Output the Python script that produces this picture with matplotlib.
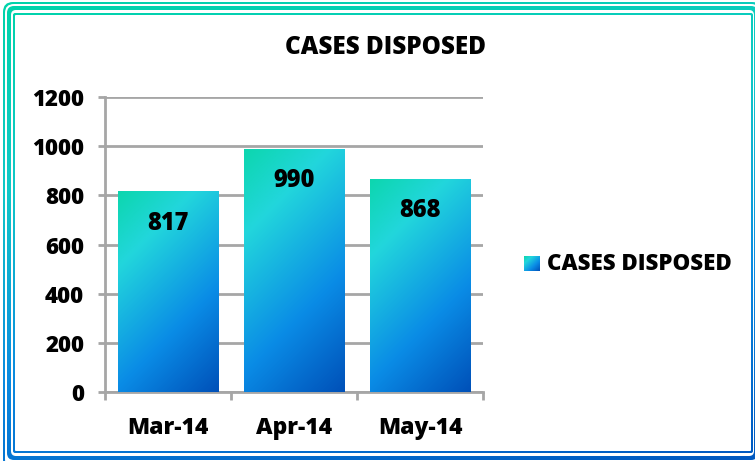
import numpy as np
import matplotlib
matplotlib.use("Agg")
import matplotlib.pyplot as plt
from matplotlib.colors import LinearSegmentedColormap
from matplotlib.patches import FancyBboxPatch

categories = ["Mar-14", "Apr-14", "May-14"]
values = [817, 990, 868]
series_name = "CASES DISPOSED"
title = "CASES DISPOSED"
yticks = [0, 200, 400, 600, 800, 1000, 1200]

W, H = 755, 461
fig = plt.figure(figsize=(W / 100, H / 100), dpi=100)
FONT = "Open Sans"
WT = 800

# ---- background frame axes (pixel coordinates) ----
bg = fig.add_axes([0, 0, 1, 1])
bg.set_xlim(0, W)
bg.set_ylim(H, 0)
bg.axis("off")

frame_cmap = LinearSegmentedColormap.from_list("frame", ["#00d4aa", "#10c8c8", "#0a8ae0", "#0058c0"])
yy, xx = np.mgrid[0:1:200j, 0:1:300j]
frame_grad = 0.8 * yy + 0.2 * xx

layers = [(3, 2, 762, 470, 10), (5, 4, 760, 468, 9), (7, 6, 758, 460, 7),
          (11, 10, 754, 456, 5), (13, 13, 753, 453, 2), (15, 15, 751, 451, 1)]
for i, (x0, y0, x1, y1, r) in enumerate(layers):
    if i % 2 == 0:
        p = FancyBboxPatch((x0, y0), x1 - x0, y1 - y0, boxstyle=f"round,pad=0,rounding_size={r}",
                           facecolor="none", edgecolor="none")
        bg.add_patch(p)
        im = bg.imshow(frame_grad, cmap=frame_cmap, extent=(0, W, H, 0), aspect="auto", zorder=1 + i)
        im.set_clip_path(p)
    else:
        p = FancyBboxPatch((x0, y0), x1 - x0, y1 - y0, boxstyle=f"round,pad=0,rounding_size={r}",
                           facecolor="white", edgecolor="none", zorder=1 + i)
        bg.add_patch(p)

# legend
bar_cmap = LinearSegmentedColormap.from_list(
    "bar", [(0, "#0cd6ae"), (0.25, "#22d6dc"), (0.65, "#0a8ce6"), (1, "#0050b8")])
ly, lx = np.mgrid[0:1:50j, 0:1:50j]
bg.imshow((lx + ly) / 2, cmap=bar_cmap, extent=(524, 540, 271, 256), aspect="auto", zorder=20)
bg.text(547, 264, series_name, fontsize=16, fontweight=WT, family=FONT, va="center", ha="left", zorder=20)
bg.set_xlim(0, W)
bg.set_ylim(H, 0)

# title
fig.text(385 / W, 1 - 48 / H, title, fontsize=17.5, fontweight=WT, family=FONT, ha="center", va="center")

# ---- main chart axes ----
ax_l, ax_r, ax_t, ax_b = 105, 483, 97, 392
ax = fig.add_axes([ax_l / W, 1 - ax_b / H, (ax_r - ax_l) / W, (ax_b - ax_t) / H])
ax.set_facecolor("none")
ax.set_xlim(-0.5, len(categories) - 0.5)
ax.set_ylim(0, 1200)
ax.set_yticks(yticks)
ax.set_yticklabels([str(v) for v in yticks], fontsize=16, fontweight=WT, family=FONT)
ax.yaxis.grid(True, color="#a6a6a6", linewidth=2)
ax.set_axisbelow(True)
for s in ["top", "right"]:
    ax.spines[s].set_visible(False)
for s in ["left", "bottom"]:
    ax.spines[s].set_color("#a6a6a6")
    ax.spines[s].set_linewidth(2)
ax.tick_params(axis="y", length=5, width=2, color="#a6a6a6", pad=10)
x = np.arange(len(categories))
ax.set_xticks(x)
ax.set_xticklabels(categories, fontsize=16.5, fontweight=WT, family=FONT)
ax.tick_params(axis="x", which="major", length=0, pad=17)
ax.set_xticks(np.arange(len(categories) + 1) - 0.5, minor=True)
ax.tick_params(axis="x", which="minor", length=6, width=2, color="#a6a6a6")

bw = 0.8
bars = ax.bar(x, values, width=bw, color="none", edgecolor="none", zorder=3)
px_per_unit_x = (ax_r - ax_l) / len(categories)
px_per_unit_y = (ax_b - ax_t) / 1200
for b, v in zip(bars, values):
    wpx = bw * px_per_unit_x
    hpx = v * px_per_unit_y
    ny = max(int(100 * hpx / wpx), 2)
    gy, gx = np.mgrid[0:1:complex(ny), 0:1:100j]
    grad = (gx * wpx + gy * hpx) / (wpx + hpx)
    im = ax.imshow(grad, cmap=bar_cmap, extent=(b.get_x(), b.get_x() + bw, 0, v),
                   aspect="auto", zorder=3, origin="upper")
    im.set_clip_path(b)
    ax.text(b.get_x() + bw / 2, v - 32 / px_per_unit_y, str(v), ha="center", va="center",
            fontsize=17, fontweight=WT, family=FONT, zorder=5)
ax.set_xlim(-0.5, len(categories) - 0.5)
ax.set_ylim(0, 1200)

fig.savefig("out.png", dpi=100)
